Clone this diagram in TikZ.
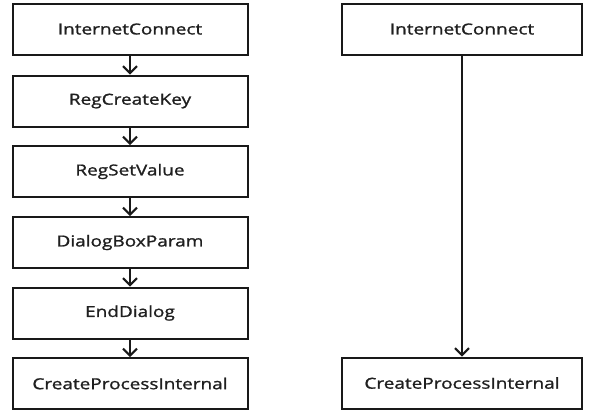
\documentclass[tikz,border=0pt]{standalone}
\usepackage{fontspec}
\setmainfont{Open Sans}
\newfontfamily\boxfont{Open Sans}[FakeStretch=1.25,FakeBold=1.2]
\usetikzlibrary{arrows.meta}
\begin{document}
\begin{tikzpicture}[x=1pt,y=-1pt,
  fbox/.style={draw=black!90, line width=2pt, minimum height=51pt, inner sep=0pt, font=\boxfont\fontsize{15.2}{18}\selectfont, text=black!88},
  lbox/.style={fbox, minimum width=235pt},
  rbox/.style={fbox, minimum width=240pt},
  conn/.style={draw=black!90, line width=2pt, -{Straight Barb[length=7pt,width=14pt,line width=2pt]}}]
\useasboundingbox (0,0) rectangle (606,410);
\node[lbox] (l1) at (130,29) {InternetConnect};
\node[lbox] (l2) at (130,101) {RegCreateKey};
\node[lbox] (l3) at (130,171.5) {RegSetValue};
\node[lbox] (l4) at (130,242.5) {DialogBoxParam};
\node[lbox] (l5) at (130,313) {EndDialog};
\node[lbox] (l6) at (130,383.5) {CreateProcessInternal};
\node[rbox] (r1) at (462,29) {InternetConnect};
\node[rbox] (r2) at (462,383) {CreateProcessInternal};
\draw[conn] (l1) -- (l2);
\draw[conn] (l2) -- (l3);
\draw[conn] (l3) -- (l4);
\draw[conn] (l4) -- (l5);
\draw[conn] (l5) -- (l6);
\draw[conn] (r1) -- (r2);
\end{tikzpicture}
\end{document}
